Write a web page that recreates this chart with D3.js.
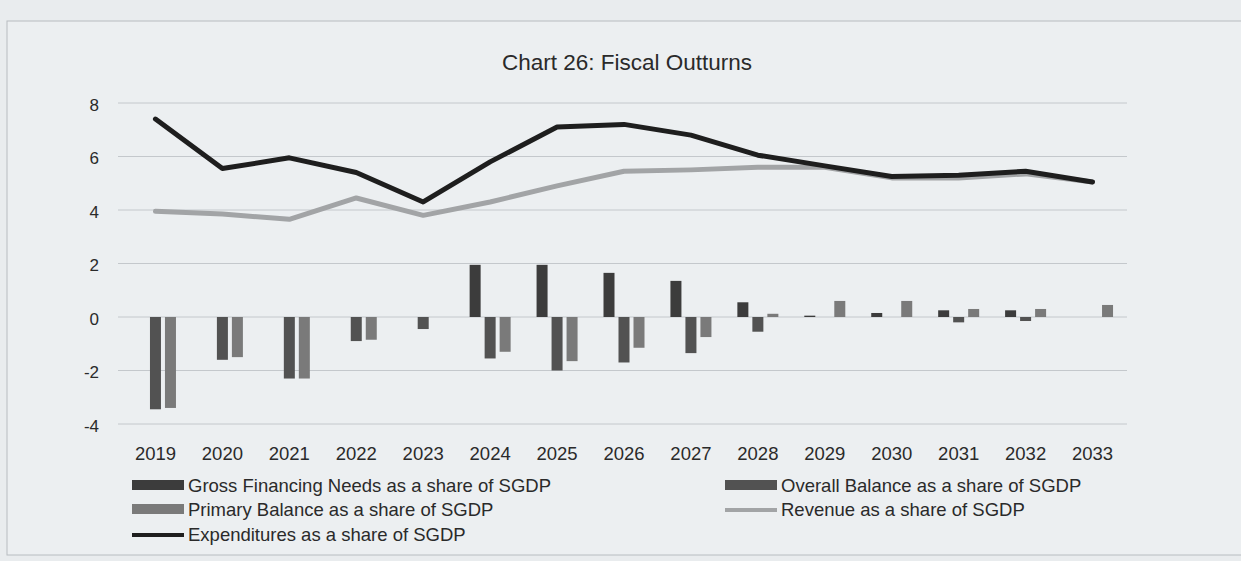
<!DOCTYPE html>
<html>
<head>
<meta charset="utf-8">
<script src="https://cdn.jsdelivr.net/npm/d3@7"></script>
<style>
  html, body { margin: 0; padding: 0; background: #e9ecee; }
  svg { display: block; }
  text { font-family: "Liberation Sans", Arial, sans-serif; fill: #2a2a2a; }
</style>
</head>
<body>
<svg id="chart" width="1241" height="561"></svg>
<script>
// ---- data ----
const years = ["2019","2020","2021","2022","2023","2024","2025","2026","2027","2028","2029","2030","2031","2032","2033"];
const grossFinancingNeeds = [0, 0, 0, 0, 0, 1.95, 1.95, 1.65, 1.35, 0.55, 0.05, 0.15, 0.25, 0.25, 0];
const overallBalance      = [-3.45, -1.6, -2.3, -0.9, -0.45, -1.55, -2.0, -1.7, -1.35, -0.55, 0, 0, -0.2, -0.15, 0];
const primaryBalance      = [-3.4, -1.5, -2.3, -0.85, 0, -1.3, -1.65, -1.15, -0.75, 0.12, 0.6, 0.6, 0.3, 0.3, 0.45];
const expenditures        = [7.4, 5.55, 5.95, 5.4, 4.3, 5.8, 7.1, 7.2, 6.8, 6.05, 5.65, 5.25, 5.3, 5.45, 5.05];
const revenue             = [3.95, 3.85, 3.65, 4.45, 3.8, 4.3, 4.9, 5.45, 5.5, 5.6, 5.6, 5.2, 5.2, 5.35, 5.05];
const yTicks = [-4, -2, 0, 2, 4, 6, 8];
const title = "Chart 26: Fiscal Outturns";
const barSeries = [
  {name: "Gross Financing Needs as a share of SGDP", values: grossFinancingNeeds, color: "#3c3c3c"},
  {name: "Overall Balance as a share of SGDP", values: overallBalance, color: "#525252"},
  {name: "Primary Balance as a share of SGDP", values: primaryBalance, color: "#7a7a7a"}
];
const lineSeries = [
  {name: "Revenue as a share of SGDP", values: revenue, color: "#a2a4a6"},
  {name: "Expenditures as a share of SGDP", values: expenditures, color: "#1e1e1e"}
];

// ---- drawing ----
const svg = d3.select("#chart");

// scanned page frame
svg.append("rect").attr("x", 7).attr("y", 21).attr("width", 1260).attr("height", 534)
  .attr("fill", "#eceff1").attr("stroke", "#b8bcc0").attr("stroke-width", 1);

const x = d3.scaleBand().domain(years).range([122, 1126]).padding(0);
const xSub = d3.scaleBand().domain(barSeries.map(d => d.name)).range([-20.5, 20.5]).paddingInner(4/15).paddingOuter(0);
const y = d3.scaleLinear().domain([-4, 8]).range([424, 103]);

// gridlines
svg.append("g").selectAll("line").data(yTicks).join("line")
  .attr("x1", 118).attr("x2", 1127)
  .attr("y1", d => y(d)).attr("y2", d => y(d))
  .attr("stroke", "#c4c8cc").attr("stroke-width", 1);

// y axis labels
const yAxis = d3.axisLeft(y).tickValues(yTicks).tickSize(0).tickPadding(0).tickFormat(d3.format("d"));
svg.append("g").attr("transform", "translate(99,2)").call(yAxis)
  .call(g => g.select(".domain").remove())
  .call(g => g.selectAll("text").attr("font-size", 17).attr("fill", "#2a2a2a")
    .attr("font-family", "'Liberation Sans', Arial, sans-serif").text(d => d < 0 ? "-" + Math.abs(d) : d));

// x axis labels
const xAxis = d3.axisBottom(x).tickSize(0).tickPadding(0);
svg.append("g").attr("transform", "translate(0,447)").call(xAxis)
  .call(g => g.select(".domain").remove())
  .call(g => g.selectAll("text").attr("font-size", 18.5).attr("fill", "#2a2a2a")
    .attr("font-family", "'Liberation Sans', Arial, sans-serif"));

// bars
barSeries.forEach(s => {
  svg.append("g").selectAll("rect").data(years.map((yr, i) => ({yr, v: s.values[i]}))).join("rect")
    .attr("x", d => x(d.yr) + x.bandwidth() / 2 + xSub(s.name))
    .attr("width", xSub.bandwidth())
    .attr("y", d => y(Math.max(0, d.v)))
    .attr("height", d => Math.abs(y(d.v) - y(0)))
    .attr("fill", s.color);
});

// lines
const line = d3.line().x((d, i) => x(years[i]) + x.bandwidth() / 2).y(d => y(d));
lineSeries.forEach(s => {
  svg.append("path").datum(s.values)
    .attr("d", line).attr("fill", "none")
    .attr("stroke", s.color).attr("stroke-width", 5)
    .attr("stroke-linejoin", "round").attr("stroke-linecap", "round");
});

// title
svg.append("text").attr("x", 627).attr("y", 70).attr("text-anchor", "middle")
  .attr("font-size", 22.5).text(title);

// legend
const legendItems = [
  {s: barSeries[0], type: "bar", col: 0, row: 0},
  {s: barSeries[1], type: "bar", col: 1, row: 0},
  {s: barSeries[2], type: "bar", col: 0, row: 1},
  {s: lineSeries[0], type: "line", col: 1, row: 1},
  {s: lineSeries[1], type: "line", col: 0, row: 2}
];
const colX = [132, 725];
const rowY = [492, 516, 541];
const lg = svg.append("g");
legendItems.forEach(it => {
  const gx = colX[it.col], gy = rowY[it.row];
  if (it.type === "bar") {
    lg.append("rect").attr("x", gx).attr("y", gy - 12).attr("width", 52).attr("height", 10).attr("fill", it.s.color);
  } else {
    lg.append("line").attr("x1", gx).attr("x2", gx + 52).attr("y1", gy - 6).attr("y2", gy - 6)
      .attr("stroke", it.s.color).attr("stroke-width", 4);
  }
  lg.append("text").attr("x", gx + 56).attr("y", gy).attr("font-size", 18.5).text(it.s.name);
});
</script>
</body>
</html>
